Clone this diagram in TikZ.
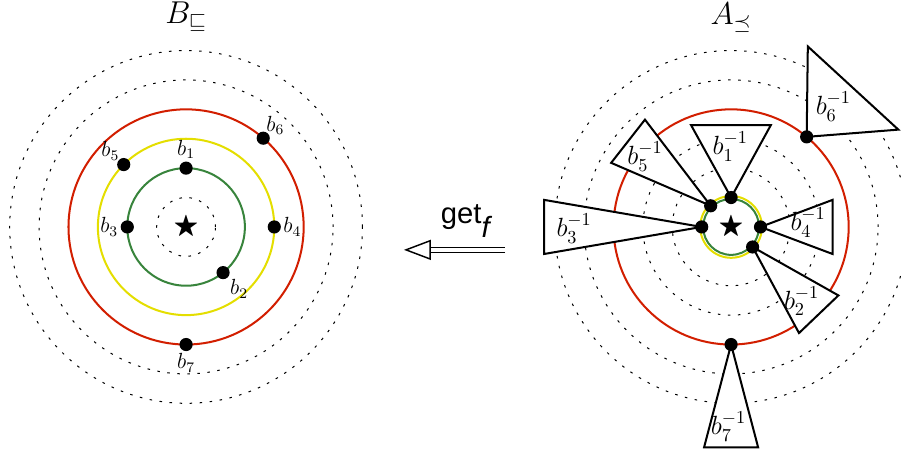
\documentclass[tikz,border=0pt]{standalone}
\usepackage{amssymb}
\usepackage{fontspec}
\newfontfamily\getfont{Liberation Sans}
\usetikzlibrary{arrows.meta}
\definecolor{ringred}{RGB}{210,30,0}
\definecolor{ringyellow}{RGB}{228,222,0}
\definecolor{ringgreen}{RGB}{56,132,60}
\begin{document}
\begin{tikzpicture}[x=0.565cm,y=0.565cm,
  level/.style={line width=0.55pt,dash pattern=on 1.4pt off 4.1pt},
  ring/.style={line width=1.1pt},
  dot/.style={circle,fill=black,inner sep=0pt,minimum size=7.2pt},
  wedge/.style={line width=1.1pt,fill=white,line join=miter},
  lbl/.style={inner sep=1pt,font=\large}]
  \useasboundingbox (-6.33,-7.65) rectangle (24.32,7.72);
  % Left: B
  \coordinate (bc) at (0,0);
  \node (btitle) at (0,7.14) {\LARGE $B_{\sqsubseteq}$};
  \foreach \r in {1,5,6}
    \draw[level] (bc) circle (\r);
  \draw[ring,ringgreen] (bc) circle (2);
  \draw[ring,ringyellow] (bc) circle (3);
  \draw[ring,ringred] (bc) circle (4);
  \node (bstar) at (bc) {\Large$\bigstar$};
  \node[dot,label={[lbl]above:$b_1$}] (b1) at (90:2) {};
  \node[dot,label={[lbl]below right:$b_2$}] (b2) at (-51:2) {};
  \node[dot,label={[lbl]left:$b_3$}] (b3) at (180:2) {};
  \node[dot,label={[lbl]right:$b_4$}] (b4) at (0:3) {};
  \node[dot,label={[lbl,label distance=-2pt]above left:$b_5$}] (b5) at (135:3) {};
  \node[dot,label={[lbl,label distance=-3pt]above right:$b_6$}] (b6) at (49:4) {};
  \node[dot,label={[lbl]below:$b_7$}] (b7) at (270:4) {};
  % Arrow get_f
  \coordinate (gt) at (10.85,-0.78);
  \coordinate (gh) at (7.41,-0.78);
  \draw[double,double distance=2pt,line width=0.8pt,
    -{Triangle[open,length=14.7pt,width=10.9pt]}] (gt) -- (gh);
  \node (getf) at (9.5,0.2) {\fontsize{16}{18}\selectfont\getfont get\raisebox{-0.85ex}{\itshape f}};
  % Right: A
  \begin{scope}[shift={(18.54,0)}]
    \coordinate (ac) at (0,0);
    \node (atitle) at (0,7.11) {\LARGE $A_{\preceq}$};
    \foreach \r in {2,3,5,6}
      \draw[level] (ac) circle (\r);
    \draw[ring,ringred] (ac) circle (4);
    \draw[ring,ringyellow] (ac) circle (1.05);
    \draw[ring,ringgreen] (ac) circle (0.95);
    \node (astar) at (ac) {\Large$\bigstar$};
    % apex points
    \coordinate (a1) at (90:1);
    \coordinate (a2) at (-43:1);
    \coordinate (a3) at (180:1);
    \coordinate (a4) at (0:1);
    \coordinate (a5) at (134:1);
    \coordinate (a6) at (50:4);
    \coordinate (a7) at (270:4);
    % triangles
    \draw[wedge] (a1) -- (-1.36,3.46) -- (1.35,3.46) -- cycle;
    \draw[wedge] (a5) -- (-2.93,3.65) -- (-4.08,2.18) -- cycle;
    \draw[wedge] (a3) -- (-6.36,0.92) -- (-6.36,-0.92) -- cycle;
    \draw[wedge] (a4) -- (3.45,0.92) -- (3.45,-0.92) -- cycle;
    \draw[wedge] (a2) -- (3.65,-2.33) -- (2.31,-3.61) -- cycle;
    \draw[wedge] (a6) -- (2.61,6.14) -- (5.69,3.31) -- cycle;
    \draw[wedge] (a7) -- (-0.92,-7.5) -- (0.92,-7.5) -- cycle;
    \foreach \n in {1,...,7}
      \node[dot] (d\n) at (a\n) {};
    % labels
    \node (l1) at (-0.03,2.73) {\Large $b_1^{-1}$};
    \node (l2) at (2.40,-2.53) {\Large $b_2^{-1}$};
    \node (l3) at (-5.34,-0.06) {\Large $b_3^{-1}$};
    \node (l4) at (2.62,0.15) {\Large $b_4^{-1}$};
    \node (l5) at (-2.93,2.39) {\Large $b_5^{-1}$};
    \node (l6) at (3.48,4.10) {\Large $b_6^{-1}$};
    \node (l7) at (-0.09,-6.79) {\Large $b_7^{-1}$};
  \end{scope}
\end{tikzpicture}
\end{document}
